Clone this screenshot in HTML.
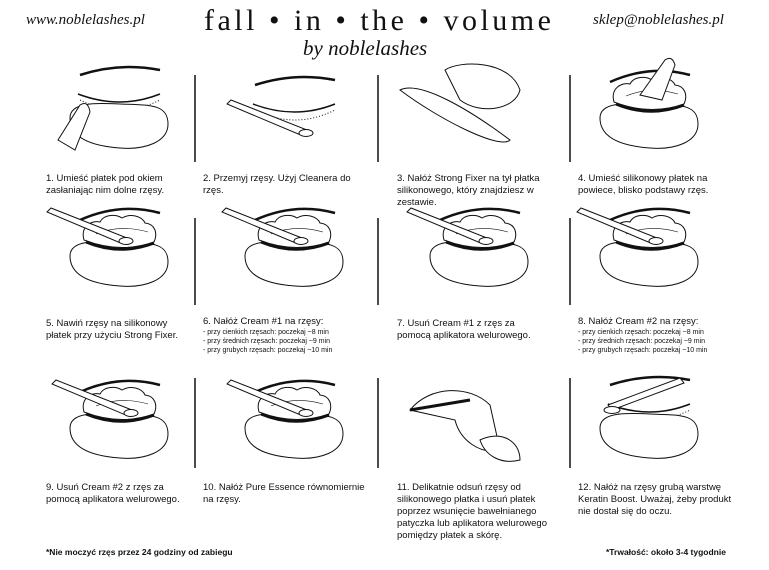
<!DOCTYPE html>
<html><head><meta charset="utf-8"><style>
body{margin:0;background:#fff;width:769px;height:570px;position:relative;overflow:hidden;font-family:"Liberation Sans",sans-serif;color:#111}
.t{position:absolute;font-size:9.5px;line-height:12px}
.s{font-size:7px;line-height:9px;display:block}
.h{position:absolute;font-family:"Liberation Serif",serif;font-style:italic}
</style></head><body>
<svg width="769" height="570" style="position:absolute;left:0;top:0">
<defs>
<path id="pad" d="M70,428 C70,412 95,413 120,414 C150,415 168,414 168,434 C168,452 145,460 120,458 C92,456 70,448 70,428Z" fill="#fff" stroke="#111" stroke-width="1"/>
<g id="eye" fill="none" stroke="#111" stroke-width="1">
<use href="#pad"/>
<path d="M80,392 Q120,374 160,385" stroke-width="2.5"/>
<path d="M84,412 C80,398 92,392 100,394 C104,386 116,386 122,390 C130,385 142,388 145,395 C155,396 158,405 154,414 Q120,426 84,412Z" fill="#fff"/>
<path d="M96,406 Q120,396 148,404" stroke-width="0.6"/>
<path d="M86,414 Q120,428 154,415" stroke-width="3"/>
</g>
<g id="stick" stroke="#111" stroke-width="1" fill="#fff"><path d="M52,384 L56,380 L132,410 L128,416Z"/><ellipse cx="131" cy="413" rx="7" ry="3.5"/></g>
<g id="closed" fill="none" stroke="#111"><path d="M80,385 Q120,372 160,380" stroke-width="2.5"/><path d="M78,404 Q120,420 160,404" stroke-width="1.5"/><path d="M80,410 Q120,430 160,410" stroke-width="1" stroke-dasharray="1 2"/></g>
</defs>
<g stroke="#111" stroke-width="1.5">
<line x1="195" y1="75" x2="195" y2="162"/><line x1="378" y1="75" x2="378" y2="162"/><line x1="570" y1="75" x2="570" y2="162"/>
<line x1="195" y1="218" x2="195" y2="305"/><line x1="378" y1="218" x2="378" y2="305"/><line x1="570" y1="218" x2="570" y2="305"/>
<line x1="195" y1="378" x2="195" y2="468"/><line x1="378" y1="378" x2="378" y2="468"/><line x1="570" y1="378" x2="570" y2="468"/>
</g>
<!-- row1 -->
<g transform="translate(0,-310)"><use href="#closed"/><use href="#pad"/></g>
<path d="M58,140 L80,105 Q88,100 90,112 L75,150Z" fill="#fff" stroke="#111"/>
<g transform="translate(175,-300)"><use href="#closed"/><use href="#stick" transform="translate(0,20)"/></g>
<path d="M400,90 C420,80 470,110 510,140 C500,150 440,120 400,90Z" fill="#fff" stroke="#111"/>
<path d="M445,70 C460,60 510,60 520,90 C515,110 480,115 460,100Z" fill="#fff" stroke="#111"/>
<g transform="translate(530,-310)"><use href="#eye"/></g>
<path d="M640,95 L665,60 Q672,55 675,65 L662,100Z" fill="#fff" stroke="#111"/>
<!-- row2 -->
<g transform="translate(0,-172)"><use href="#eye"/><use href="#stick" transform="translate(-5,0)"/></g>
<g transform="translate(175,-172)"><use href="#eye"/><use href="#stick" transform="translate(-5,0)"/></g>
<g transform="translate(360,-172)"><use href="#eye"/><use href="#stick" transform="translate(-5,0)"/></g>
<g transform="translate(530,-172)"><use href="#eye"/><use href="#stick" transform="translate(-5,0)"/></g>
<!-- row3 -->
<use href="#eye"/><use href="#stick"/>
<g transform="translate(175,0)"><use href="#eye"/><use href="#stick"/></g>
<path d="M410,410 C430,385 470,385 490,405 L500,450 C480,455 460,440 455,420 Z" fill="#fff" stroke="#111"/>
<path d="M480,440 C500,430 520,440 520,460 C500,465 485,455 480,440Z" fill="#fff" stroke="#111"/>
<line x1="410" y1="410" x2="470" y2="400" stroke="#111" stroke-width="3"/>
<g transform="translate(530,0)"><use href="#closed"/><use href="#pad"/></g>
<path d="M612,410 L608,405 L680,378 L684,383Z" fill="#fff" stroke="#111"/>
<ellipse cx="612" cy="410" rx="8" ry="3.5" fill="#fff" stroke="#111"/>
</svg>
<div class="h" style="left:26px;top:12px;font-size:15px">www.noblelashes.pl</div>
<div class="h" style="left:204px;top:4px;font-size:30px;font-style:normal;letter-spacing:3.5px">fall • in • the • volume</div>
<div class="h" style="left:303px;top:36px;font-size:21px">by noblelashes</div>
<div class="h" style="left:593px;top:12px;font-size:15px">sklep@noblelashes.pl</div>
<div class="t" style="left:46px;top:173px">1. Umieść płatek pod okiem<br>zasłaniając nim dolne rzęsy.</div>
<div class="t" style="left:203px;top:173px">2. Przemyj rzęsy. Użyj Cleanera do<br>rzęs.</div>
<div class="t" style="left:397px;top:173px">3. Nałóż Strong Fixer na tył płatka<br>silikonowego, który znajdziesz w<br>zestawie.</div>
<div class="t" style="left:578px;top:173px">4. Umieść silikonowy płatek na<br>powiece, blisko podstawy rzęs.</div>
<div class="t" style="left:46px;top:318px">5. Nawiń rzęsy na silikonowy<br>płatek przy użyciu Strong Fixer.</div>
<div class="t" style="left:203px;top:316px">6. Nałóż Cream #1 na rzęsy:<span class="s">- przy cienkich rzęsach: poczekaj ~8 min</span><span class="s">- przy średnich rzęsach: poczekaj ~9 min</span><span class="s">- przy grubych rzęsach: poczekaj ~10 min</span></div>
<div class="t" style="left:397px;top:318px">7. Usuń Cream #1 z rzęs za<br>pomocą aplikatora welurowego.</div>
<div class="t" style="left:578px;top:316px">8. Nałóż Cream #2 na rzęsy:<span class="s">- przy cienkich rzęsach: poczekaj ~8 min</span><span class="s">- przy średnich rzęsach: poczekaj ~9 min</span><span class="s">- przy grubych rzęsach: poczekaj ~10 min</span></div>
<div class="t" style="left:46px;top:482px">9. Usuń Cream #2 z rzęs za<br>pomocą aplikatora welurowego.</div>
<div class="t" style="left:203px;top:482px">10. Nałóż Pure Essence równomiernie<br>na rzęsy.</div>
<div class="t" style="left:397px;top:482px">11. Delikatnie odsuń rzęsy od<br>silikonowego płatka i usuń płatek<br>poprzez wsunięcie bawełnianego<br>patyczka lub aplikatora welurowego<br>pomiędzy płatek a skórę.</div>
<div class="t" style="left:578px;top:482px">12. Nałóż na rzęsy grubą warstwę<br>Keratin Boost. Uważaj, żeby produkt<br>nie dostał się do oczu.</div>
<div class="t" style="left:46px;top:546px;font-size:8.5px;font-weight:bold">*Nie moczyć rzęs przez 24 godziny od zabiegu</div>
<div class="t" style="left:606px;top:546px;font-size:8.5px;font-weight:bold">*Trwałość: około 3-4 tygodnie</div>
</body></html>
